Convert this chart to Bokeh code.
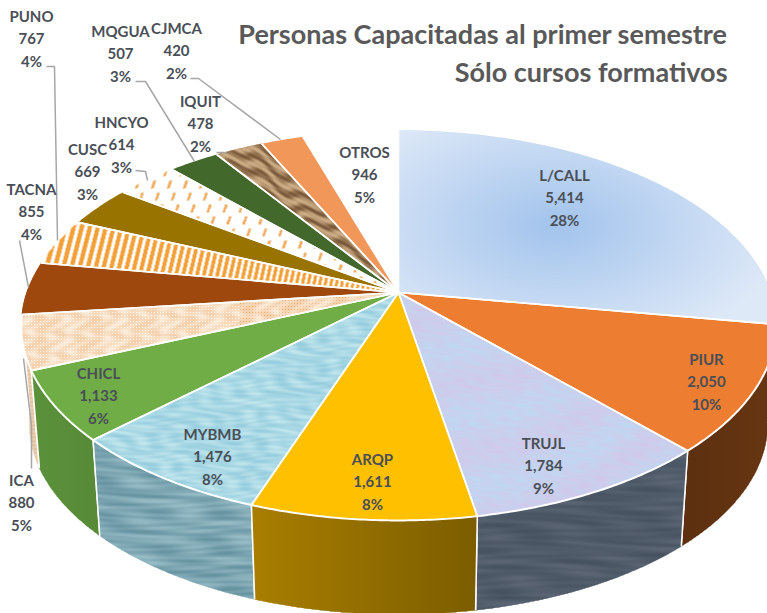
import numpy as np
from bokeh.plotting import figure
from bokeh.models import Range1d
from bokeh.core.properties import value
from bokeh.embed import file_html
from bokeh.resources import INLINE

# ---------- data ----------
names = ["L/CALL", "PIUR", "TRUJL", "ARQP", "MYBMB", "CHICL", "ICA", "TACNA",
         "PUNO", "CUSC", "HNCYO", "MQGUA", "IQUIT", "CJMCA", "OTROS"]
counts = [5414, 2050, 1784, 1611, 1476, 1133, 880, 855, 767, 669, 614, 507, 478, 420, 946]
percents = [28, 10, 9, 8, 8, 6, 5, 4, 4, 3, 3, 3, 2, 2, 5]
title_lines = ["Personas Capacitadas al primer semestre", "Sólo cursos formativos"]

# ---------- layout / style ----------
W, H = 767, 613
OX, OY = 0, 0
CX, CY, BX, AY, K = 398.0, 292.0, 372.0, 189.4, 0.169
CY2, S2 = 391.0, 0.978
label_x = [564, 706, 543, 372, 212, 98, 21, 31, 31, 87, 121, 120, 200, 176, 364]
label_y = [197, 381, 465, 481, 456, 395, 502, 211, 38, 171, 144, 53, 123, 50, 174]
leaders = [([46, 54, 57], [66, 66, 240]),
           ([135, 145, 194], [81, 81, 161]),
           ([190, 198, 280], [78, 78, 139]),
           ([216, 226], [152, 152]),
           ([135, 145, 147], [170, 171, 180]),
           ([19, 28], [240, 287]),
           ([31, 31, 23], [468, 425, 358])]
top_color = ["#bcd3f0", "#ed7d31", "#c5d5f0", "#ffc000", "#a8d8e6", "#70ad47", "#fbe6cf", "#9e480e",
             "#ffffff", "#997300", "#ffffff", "#43682b", "#a67c52", "#f1975a", "#ffffff"]
side_color = ["#8aa5c8", "#5f3210", "#525e6c", "#937000", "#7ea8b5", "#5b8f3a", "#e8cdb0", "#7a380b",
              "#ffffff", "#7a5c00", "#ffffff", "#355222", "#85633f", "#c47a48", "#ffffff"]


def proj(th, z=0):
    s, c = np.sin(th), np.cos(th)
    d = 1 + K * c
    x, y = BX * s / d, -AY * c / d
    if z:
        return CX + S2 * x, CY2 + S2 * y
    return CX + x, CY + y


def inside(X, Y, px, py):
    res = np.zeros(X.shape, bool)
    n = len(px)
    for i in range(n):
        x0, y0, x1, y1 = px[i], py[i], px[(i + 1) % n], py[(i + 1) % n]
        if y0 == y1:
            continue
        cond = (y0 > Y) != (y1 > Y)
        res ^= cond & (X < (x1 - x0) * (Y - y0) / (y1 - y0) + x0)
    return res


def ripple(X, Y, s=1.0):
    return (np.sin(X * .07 * s + 2.1 * np.sin(Y * .19 * s + .7)) * np.sin(Y * .41 * s + 1.7 * np.sin(X * .05 * s))
            + .6 * np.sin(X * .13 * s - Y * .23 * s + 1.9 * np.sin(X * .031 * s + Y * .11 * s))) / 1.6


def mix(a, b, t):
    t = np.clip(t, 0, 1)[..., None]
    return np.array(a, float) * (1 - t) + np.array(b, float) * t


def tx_lcall(X, Y):
    d = np.hypot((X - 555) / 230, (Y - 225) / 130)
    return mix((163, 196, 237), (222, 233, 248), d)


def tx_trujl(X, Y):
    n = .6 * ripple(X, Y * 1.6, 1.7) + .4 * np.sin(X * .037 + Y * .09 + 1.2 * np.sin(X * .02))
    return mix((190, 218, 243), (212, 200, 234), .5 + .5 * n)


def tx_water(X, Y):
    n = ripple(X, Y * 1.2, 1.5)
    return mix((150, 205, 222), (192, 230, 238), .5 + .6 * n)


def tx_water_side(X, Y):
    n = ripple(X * .6, Y * 1.5)
    return mix((104, 148, 162), (150, 188, 198), .5 + .6 * n)


def tx_trujl_side(X, Y):
    n = ripple(X * .5 - Y * .2, Y * 1.3)
    return mix((70, 82, 96), (94, 104, 118), .45 + .5 * n)


def tx_arqp_side(X, Y):
    return mix((170, 127, 0), (124, 94, 0), (X - 250) / 227)


def tx_piur_side(X, Y):
    return mix((92, 48, 16), (104, 54, 18), (X - 680) / 90)


def tx_chicl_side(X, Y):
    return mix((92, 146, 60), (88, 138, 56), (X - 30) / 70)


def tx_stripes(X, Y):
    ph = (X + .28 * Y) / (7.0 + .006 * (400 - X))
    return mix((255, 255, 255), (243, 160, 56), (np.sin(2 * np.pi * ph) + .35) * 3)


def tx_dashes(X, Y):
    row = np.floor(Y / 12.0)
    u = (X + .35 * Y + row * 8) % 16.0
    v = Y % 12.0
    return mix((255, 255, 255), (241, 170, 90), ((u < 2.8) & (v < 8)).astype(float) * .95)


def tx_weave(X, Y):
    g = (np.sin(X * 2.09) * np.sin(Y * 2.09) > 0).astype(float)
    n = .5 + .5 * np.sin(X * .23 + 1.5 * np.sin(Y * .31)) * np.sin(Y * .27 + X * .1)
    return mix((255, 248, 238), (236, 170, 108), g * (.3 + .85 * n))


def tx_weave_side(X, Y):
    return mix((236, 214, 190), (226, 190, 152), .5 + .5 * np.sin(Y * 1.6))


def tx_wood(X, Y):
    u = X * .34 - Y * .94
    v = X * .94 + Y * .34
    n = np.sin(u * .5 + 2.2 * np.sin(v * .06) + 1.3 * np.sin(v * .17 + u * .13)) + .4 * np.sin(u * 1.3 + v * .2)
    return mix((120, 88, 56), (204, 172, 132), .55 + .5 * n)


top_tex = {0: tx_lcall, 2: tx_trujl, 4: tx_water, 6: tx_weave, 8: tx_stripes, 10: tx_dashes, 12: tx_wood}
side_tex = {1: tx_piur_side, 2: tx_trujl_side, 3: tx_arqp_side, 4: tx_water_side, 5: tx_chicl_side, 6: tx_weave_side}

total = sum(counts)
edges = 2 * np.pi * np.concatenate([[0], np.cumsum(counts)]) / total

p = figure(width=W, height=H, output_backend="svg", toolbar_location=None,
           x_range=Range1d(OX, OX + W), y_range=Range1d(-(OY + H), -OY),
           min_border=0, outline_line_color=None, background_fill_color="white",
           border_fill_color="white")
p.axis.visible = False
p.grid.visible = False


def overlay(func, px, py):
    x0, x1 = int(max(np.floor(min(px)), OX)), int(min(np.ceil(max(px)), OX + W))
    y0, y1 = int(max(np.floor(min(py)), OY)), int(min(np.ceil(max(py)), OY + H))
    if x1 <= x0 or y1 <= y0:
        return
    X, Y = np.meshgrid(np.arange(x0, x1) + .5, np.arange(y0, y1) + .5)
    rgb = func(X, Y)
    m = inside(X, Y, px, py)
    img = np.zeros(X.shape, dtype=np.uint32)
    v = img.view(dtype=np.uint8).reshape(X.shape + (4,))
    v[..., :3] = np.clip(rgb, 0, 255).astype(np.uint8)
    v[..., 3] = m.astype(np.uint8) * 255
    p.image_rgba(image=[img[::-1]], x=x0, y=-y1, dw=x1 - x0, dh=y1 - y0)


# side walls, back to front
n_vis = len(counts)
mids = (edges[:-1] + edges[1:]) / 2
lim0, lim1 = np.pi / 2 - .05, np.radians(272)
order = sorted(range(n_vis), key=lambda i: -abs(mids[i] - np.pi))
for i in order:
    a, b = max(edges[i], lim0), min(edges[i + 1], lim1)
    if b <= a or names[i] == "OTROS":
        continue
    th = np.linspace(a, b, 50)
    tx, ty = proj(th)
    bx, by = proj(th, 1)
    px = np.concatenate([tx, bx[::-1]])
    py = np.concatenate([ty, by[::-1]])
    p.patch(px, -py, fill_color=side_color[i], line_color=None)
    if i in side_tex:
        overlay(side_tex[i], px, py)
    p.line([tx[0], bx[0]], [-ty[0], -by[0]], line_color="white", line_width=1.5)
    p.line([tx[-1], bx[-1]], [-ty[-1], -by[-1]], line_color="white", line_width=1.5)

# top faces
for i in range(n_vis):
    th = np.linspace(edges[i], edges[i + 1], 60)
    tx, ty = proj(th)
    px = np.concatenate([[CX], tx])
    py = np.concatenate([[CY], ty])
    p.patch(px, -py, fill_color=top_color[i], line_color=None)
    if i in top_tex:
        overlay(top_tex[i], px, py)
for i in range(n_vis):
    if names[i] == "OTROS":
        continue
    th = np.linspace(edges[i], edges[i + 1], 60)
    tx, ty = proj(th)
    p.line([CX, tx[0]], [-CY, -ty[0]], line_color="white", line_width=1.6)
    p.line([CX, tx[-1]], [-CY, -ty[-1]], line_color="white", line_width=1.6)
    if mids[i] > np.pi / 2 and mids[i] < np.radians(270):
        p.line(tx, -ty, line_color="white", line_width=2)

# leader lines
for lx, ly in leaders:
    p.line(lx, [-v for v in ly], line_color="#a6a6a6", line_width=1.5)

# labels
texts = [f"{n}\n{c:,}\n{q}%" for n, c, q in zip(names, counts, percents)]
p.text(x=label_x, y=[-v for v in label_y], text=texts, text_font=value("Lato"),
       text_font_size="15px", text_font_style="bold", text_color="#4a4f57",
       text_align="center", text_baseline="middle", text_line_height=1.24)

# title
p.text(x=[727, 727], y=[-33, -71], text=title_lines, text_font=value("Lato"),
       text_font_size="27px", text_font_style="bold", text_color="#595959",
       text_align="right", text_baseline="middle")

open("out.html", "w").write(file_html(p, INLINE))
